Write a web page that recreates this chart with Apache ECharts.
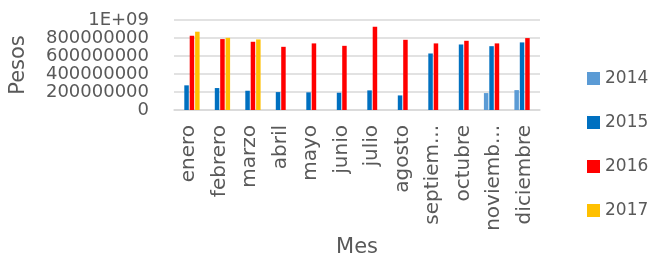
<!DOCTYPE html>
<html>
<head>
<meta charset="utf-8">
<script src="https://cdn.jsdelivr.net/npm/echarts@6/dist/echarts.min.js"></script>
<style>
  html, body { margin: 0; padding: 0; background: #fff; }
  #chart { width: 650px; height: 256px; }
</style>
</head>
<body>
<div id="chart"></div>
<script>
// meses tal como se ven en el eje (Excel recorta dos)
const meses = ['enero', 'febrero', 'marzo', 'abril', 'mayo', 'junio', 'julio', 'agosto', 'septiem...', 'octubre', 'noviemb...', 'diciembre'];
const anios = ['2014', '2015', '2016', '2017'];
const colores = ['#5B9BD5', '#0070C0', '#FF0000', '#FFC000'];

const v2014 = [null, null, null, null, null, null, null, null, null, null, 188000000, 221000000];
const v2015 = [274000000, 244000000, 214000000, 199000000, 196000000, 192000000, 218000000, 162000000, 628000000, 728000000, 709000000, 751000000];
const v2016 = [825000000, 788000000, 758000000, 702000000, 740000000, 713000000, 925000000, 780000000, 740000000, 769000000, 740000000, 799000000];
const v2017 = [870000000, 802000000, 784000000, null, null, null, null, null, null, null, null, null];

const yTicks = ['0', '200000000', '400000000', '600000000', '800000000', '1E+09'];

const fuente = 'DejaVu Sans';
const gris = '#595959';

let chart = echarts.init(document.getElementById('chart'));
let datos = [v2014, v2015, v2016, v2017];
let series = [];
for (let i = 0; i < anios.length; i++) {
    series.push({
        name: anios[i],
        type: 'bar',
        data: datos[i],
        barWidth: 4.5,
        barGap: '20%',
        itemStyle: { color: colores[i] }
    });
}

let option = {
    animation: false,
    grid: { left: 174, right: 110, top: 20, bottom: 146, outerBoundsMode: 'none' },
    legend: {
        orient: 'vertical',
        left: 582,
        top: 65,
        itemWidth: 13,
        itemHeight: 13,
        itemGap: 27,
        icon: 'rect',
        textStyle: { fontFamily: fuente, fontSize: 17, color: gris },
        data: anios
    },
    xAxis: {
        type: 'category',
        data: meses,
        name: 'Mes',
        nameLocation: 'middle',
        nameGap: 127,
        nameTextStyle: { fontFamily: fuente, fontSize: 21, color: gris },
        axisTick: { show: false },
        axisLine: { lineStyle: { color: '#d9d9d9', width: 1.5 } },
        axisLabel: {
            interval: 0,
            rotate: 90,
            margin: 15,
            fontFamily: fuente,
            fontSize: 20,
            color: gris
        }
    },
    yAxis: {
        type: 'value',
        min: 0,
        max: 1000000000,
        interval: 200000000,
        name: 'Pesos',
        nameLocation: 'middle',
        nameRotate: 90,
        nameGap: 145,
        nameTextStyle: { fontFamily: fuente, fontSize: 21, color: gris },
        axisLine: { show: false },
        axisTick: { show: false },
        splitLine: { lineStyle: { color: '#d9d9d9', width: 1.5 } },
        axisLabel: {
            margin: 25,
            showMinLabel: true,
            showMaxLabel: true,
            hideOverlap: false,
            fontFamily: fuente,
            fontSize: 18,
            color: gris,
            formatter: function (v) {
                return yTicks[Math.round(v / 200000000)];
            }
        }
    },
    series: series
};
chart.setOption(option);
</script>
</body>
</html>
